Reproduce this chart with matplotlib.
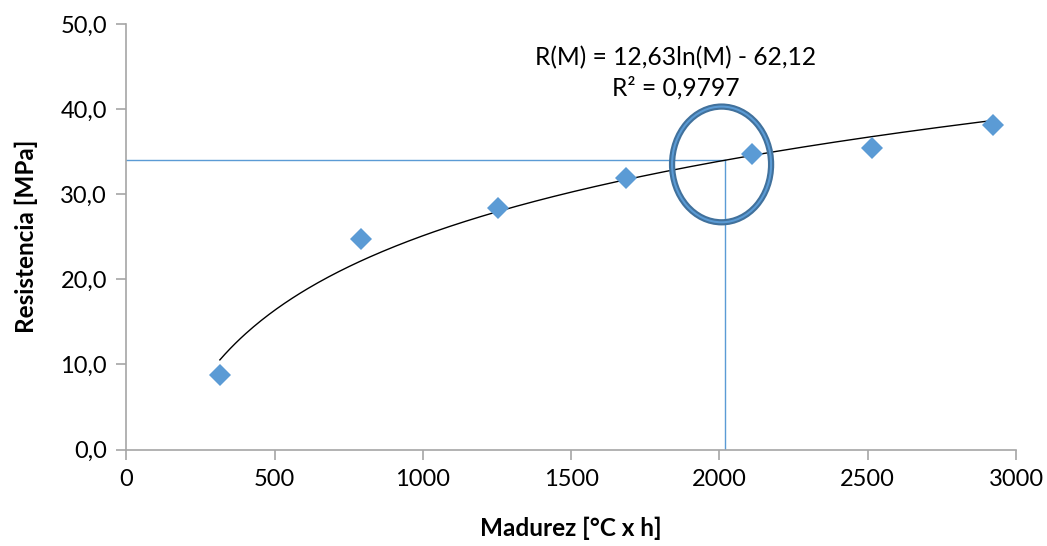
import numpy as np
import matplotlib.pyplot as plt
from matplotlib.patches import Ellipse

# data
madurez = [315, 790, 1252, 1683, 2108, 2516, 2921]
resistencia = [8.8, 24.7, 28.4, 31.9, 34.7, 35.4, 38.1]
coef_a, coef_b = 12.63, -62.12
m_objetivo = 2017

x_ticks = [0, 500, 1000, 1500, 2000, 2500, 3000]
y_ticks = [0, 10, 20, 30, 40, 50]
y_labels = ['0,0', '10,0', '20,0', '30,0', '40,0', '50,0']

plt.rcParams['font.family'] = ['Lato', 'DejaVu Sans']

fig = plt.figure(figsize=(10.47, 5.46), dpi=100)
ax = fig.add_axes([0.1208, 0.1767, 0.8496, 0.7793])

# trend line R(M) = a ln(M) + b
m = np.linspace(min(madurez), max(madurez), 300)
ax.plot(m, coef_a * np.log(m) + coef_b, color='black', lw=1, zorder=2)

ax.plot(madurez, resistencia, linestyle='none', marker='D', markersize=11,
        color='#5B9BD5', markeredgewidth=0, zorder=3)

# reading lines
r_obj = coef_a * np.log(m_objetivo) + coef_b
ax.plot([0, m_objetivo], [r_obj, r_obj], color='#5B9BD5', lw=1, zorder=1)
ax.plot([m_objetivo, m_objetivo], [0, r_obj], color='#5B9BD5', lw=1, zorder=1)

# circle highlighting the point
ax.add_patch(Ellipse((2007, 33.5), 334, 13.6, fill=False, edgecolor='#41719C', lw=4.5, zorder=4))
ax.add_patch(Ellipse((2007, 33.5), 334, 13.6, fill=False, edgecolor='#5B9BD5', lw=1.5, zorder=5))

ax.text(1852, 46.1, 'R(M) = 12,63ln(M) - 62,12', ha='center', va='center', fontsize=17.7)
ax.text(1852, 42.5, 'R² = 0,9797', ha='center', va='center', fontsize=17.7)

ax.set_xlim(0, 3000)
ax.set_ylim(0, 50)
ax.set_xticks(x_ticks)
ax.set_yticks(y_ticks)
ax.set_yticklabels(y_labels)
ax.tick_params(labelsize=17, color='#A6A6A6', length=7, width=1.2, pad=7)

for s in ['top', 'right']:
    ax.spines[s].set_visible(False)
for s in ['left', 'bottom']:
    ax.spines[s].set_color('#A6A6A6')
    ax.spines[s].set_linewidth(1.2)

ax.set_xlabel('Madurez [°C x h]', fontsize=17.5, fontweight='bold', labelpad=19)
ax.set_ylabel('Resistencia [MPa]', fontsize=17.5, fontweight='bold', labelpad=16)

fig.savefig('out.png', dpi=100)
